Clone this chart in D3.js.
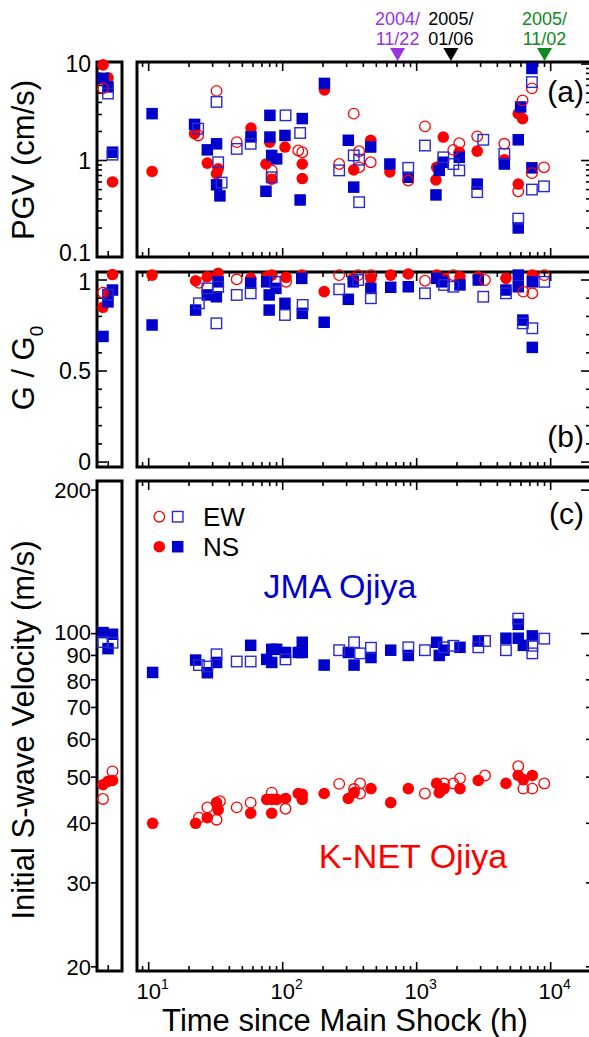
<!DOCTYPE html>
<html>
<head>
<meta charset="utf-8">
<title>ojiya</title>
<style>
  body{margin:0;background:#fff}
  svg{display:block;font-family:"Liberation Sans",Arial,sans-serif}
</style>
</head>
<body>
<div id="chart"></div>
<script src="https://d3js.org/d3.v7.min.js"></script>
<script>
// [hours since main shock, value]
var pgvKnetNS = [[10.6,0.77],[22,1.9],[27.4,0.94],[32.1,0.73],[33,0.82],[58,2.17],[75,0.92],[80,1.55],[82.8,0.64],[104,1.38],[140,0.92],[140,0.65],[205,5.4],[339,0.8],[454,1.62],[631,0.76],[1393,0.63],[1410,0.85],[1580,1.75],[2080,1.22],[2830,1.25],[4510,1.02],[5730,0.57],[5730,3.06],[6170,2.72]];
var pgvKnetEW = [[23.4,1.82],[32.1,5.27],[45.4,1.55],[82.8,0.79],[130.7,1.27],[140,1.22],[264,0.92],[339,3.06],[372,1.25],[372,0.85],[454,0.96],[865,0.62],[1153,2.26],[1877,1.29],[2080,1.51],[2830,1.78],[4510,1.49],[5730,0.48],[6170,4.2],[7245,5.6],[7245,0.74],[8913,0.85]];
var pgvJmaNS = [[10.6,3.06],[22,2.37],[27.4,1.29],[32.1,1.49],[32.1,0.56],[34,0.43],[58,1.76],[75,0.48],[80.3,2.94],[80.3,1.75],[82.8,1.13],[90.2,1.04],[104,1.82],[135,0.39],[140,2.72],[205,6.3],[309,1.62],[339,0.53],[454,1.38],[631,0.92],[865,0.67],[1393,0.44],[1475,0.79],[1580,0.96],[2080,1.08],[2830,0.57],[4510,0.92],[5730,1.64],[5730,0.2],[5970,3.59],[7245,9.0],[7245,0.84]];
var pgvJmaEW = [[23.4,2.14],[32.1,4.05],[33,0.96],[35,0.59],[45.4,1.32],[57.7,1.49],[82.8,0.67],[105,2.94],[135,1.93],[264,0.79],[339,1.13],[372,1.02],[372,0.37],[865,0.84],[1153,1.43],[1580,1.08],[1877,0.92],[2080,0.79],[2830,0.47],[3140,1.64],[4510,1.17],[5730,0.25],[7245,6.5],[7245,0.5],[8913,0.54]];

var ggKnetNS = [[10.6,1.027],[22.4,0.996],[27.4,1.018],[33,1.037],[57.7,1.009],[76,1.018],[82.8,1.027],[106,1.015],[138.7,1.027],[204,0.936],[336,1.009],[455,1.009],[640,1.027],[866,1.033],[1410,1.027],[1600,1.009],[2105,1.018],[2883,1.018],[4637,1.009],[7295,1.027]];
var ggKnetEW = [[23.7,0.985],[45.4,1.004],[106,0.99],[264,1.027],[366,1.027],[455,1.027],[1153,0.996],[1877,1.027],[3235,1.0],[6250,0.936],[7295,0.927],[8957,1.027]];
var ggJmaNS = [[10.6,0.753],[22.4,0.835],[27.4,0.918],[33,0.99],[32,0.908],[57.7,0.982],[76,0.99],[79.3,0.835],[79.3,0.918],[89,0.954],[104,0.872],[138.7,1.009],[140,0.817],[204,0.768],[309,0.894],[336,0.99],[455,0.954],[640,0.96],[866,0.963],[1410,1.009],[1540,0.99],[2105,0.973],[2883,1.0],[4637,0.945],[5730,1.027],[5730,0.963],[6200,0.78],[7295,0.99],[7295,0.63]];
var ggJmaEW = [[23.7,0.872],[27.4,0.954],[33,0.963],[32,0.762],[45.4,0.918],[57.7,0.927],[87.5,0.99],[104,0.808],[141,0.863],[264,0.949],[366,1.0],[455,0.9],[1153,0.927],[1600,0.973],[1877,0.963],[3140,0.908],[4637,0.927],[6200,0.762],[7295,0.735],[8957,0.99]];

var vsKnetNS = [[10.7,40],[22.4,40],[27.4,41.1],[32.1,44.2],[33,42.7],[57.7,42],[76,44.9],[82.8,44.9],[82.8,42],[90.2,44.9],[105,45.1],[130.7,46.2],[140,46],[140,44.9],[204,46.2],[309,45.1],[341,46.4],[456,47.3],[640,44.2],[866,47.3],[1410,48.5],[1475,46.4],[1600,47.3],[2105,47.3],[2883,49.2],[4637,48.5],[5728,50.4],[6250,49.4],[7295,50.4]];
var vsKnetEW = [[23.7,41.1],[27.4,43.2],[32.1,40.7],[34,44.5],[45.4,43.2],[57.7,44.2],[82.8,46.4],[105,42.9],[264,48.4],[341,47.2],[378,48.5],[378,46.2],[1152,46.2],[1600,48.5],[1877,48.5],[2105,49.7],[3235,50.4],[5728,52.7],[6250,47.3],[7295,47.3],[8957,48.5]];
var vsJmaNS = [[10.7,82.9],[22.4,88],[27.4,82.8],[32.1,87],[57.7,94.5],[76,88.3],[82.8,92.7],[82.8,87],[90.2,92.7],[105,91.3],[130.7,91.3],[140,95.9],[140,91.3],[204,85.9],[309,91.3],[341,85.9],[456,89.1],[640,92.3],[866,90],[1410,95.9],[1475,90],[1600,92.3],[2105,93.6],[2883,96.5],[4637,97.8],[5728,104.6],[5728,97.8],[6250,94.5],[7295,98.9]];
var vsJmaEW = [[23.7,85.9],[27.4,85.3],[32.1,90.5],[45.4,87.4],[57.7,87.4],[105,88.3],[264,92.3],[341,95.9],[378,90.9],[456,93.4],[866,93.6],[1152,92.3],[1600,93.6],[1877,94.3],[2883,93.6],[3235,96.5],[4637,92.3],[5728,107.5],[7295,94.3],[7295,90.9],[8957,97.6]];

// main shock strip (left narrow box), three positions
var stripPos = [0.24, 0.44, 0.62];
var stripPgvKnetNS = [9.8, 7.2, 0.6];
var stripPgvKnetEW = [5.6, null, null];
var stripPgvJmaNS = [7.1, 5.8, 1.22];
var stripPgvJmaEW = [null, 4.95, 1.15];
var stripGgKnetNS = [0.85, 0.93, 1.03];
var stripGgKnetEW = [0.93, null, null];
var stripGgJmaNS = [0.69, 0.88, 0.945];
var stripGgJmaEW = [null, 0.92, null];
var stripVsKnetNS = [48.2, 49.0, 49.2];
var stripVsKnetEW = [45.0, null, 51.4];
var stripVsJmaNS = [100.5, 93, 99.7];
var stripVsJmaEW = [96, null, 95.7];

// events marked above panel (a)
var eventHours = [720, 1800, 9000];
var eventLine1 = ["2004/", "2005/", "2005/"];
var eventLine2 = ["11/22", "01/06", "11/02"];
var eventColors = ["#9933dd", "#000000", "#118822"];

var xTickPowers = [1, 2, 3, 4];
var pgvLabels = [0.1, 1, 10];
var ggLabels = [0, 0.5, 1];
var vsLabels = [20, 30, 40, 50, 60, 70, 80, 90, 100, 200];

var RED = "#ff0000", BLUE = "#0000cc";
var W = 589, H = 1037;
var stripL = 97, stripR = 122, mainL = 137, mainR = 591;

var svg = d3.select("#chart").append("svg").attr("width", W).attr("height", H);

var x = d3.scaleLog().domain([8.18, 20000]).range([mainL, mainR]);
var xs = d3.scaleLinear().domain([0, 1]).range([stripL, stripR]);

function logTicks(lo, hi){
  var out = [];
  for (var d = lo; d < hi * 1.01; d *= 10){
    for (var m = 1; m <= 9; m++){
      var v = +(m * d).toPrecision(3);
      if (v >= lo && v <= hi * 1.001) out.push(v);
    }
  }
  return out;
}

var panels = [
  {top: 62, bottom: 257, y: d3.scaleLog().domain([0.1, 10.5]),
   ticks: logTicks(0.1, 10), major: [0.1, 1, 10], labels: pgvLabels, labelShift: {0.1: -4}, fs: 23,
   out: false, name: "(a)", nameY: 102,
   series: [pgvKnetNS, pgvJmaNS, pgvKnetEW, pgvJmaEW],
   strip: [stripPgvKnetNS, stripPgvJmaNS, stripPgvKnetEW, stripPgvJmaEW]},
  {top: 272, bottom: 467, y: d3.scaleLinear().domain([-0.027, 1.044]),
   ticks: d3.range(0, 11).map(function(i){return i / 10;}), major: [0, 0.5, 1], labels: ggLabels, labelShift: {1: 2}, fs: 23,
   out: false, name: "(b)", nameY: 447,
   series: [ggKnetNS, ggJmaNS, ggKnetEW, ggJmaEW],
   strip: [stripGgKnetNS, stripGgJmaNS, stripGgKnetEW, stripGgJmaEW]},
  {top: 481, bottom: 971, y: d3.scaleLog().domain([19.6, 209]),
   ticks: vsLabels, major: [100, 200], labels: vsLabels, labelShift: {100: -2, 90: 0, 80: 1}, fs: 22,
   out: true, name: "(c)", nameY: 524,
   series: [vsKnetNS, vsJmaNS, vsKnetEW, vsJmaEW],
   strip: [stripVsKnetNS, stripVsJmaNS, stripVsKnetEW, stripVsJmaEW]}
];
// series order: K-NET NS, JMA NS, K-NET EW, JMA EW
var seriesStyle = [
  {shape: "circle", filled: true, color: RED},
  {shape: "square", filled: true, color: BLUE},
  {shape: "circle", filled: false, color: RED},
  {shape: "square", filled: false, color: BLUE}
];

function marker(g, px, py, st){
  if (st.shape == "circle"){
    g.append("circle").attr("cx", px).attr("cy", py).attr("r", st.filled ? 5.8 : 5.3)
      .attr("fill", st.filled ? st.color : "none")
      .attr("stroke", st.color).attr("stroke-width", st.filled ? 0 : 1.3);
  } else {
    var s = st.filled ? 11.5 : 10.5;
    g.append("rect").attr("x", px - s / 2).attr("y", py - s / 2).attr("width", s).attr("height", s)
      .attr("fill", st.filled ? st.color : "none")
      .attr("stroke", st.filled ? "none" : "#2a2ad0").attr("stroke-width", 1.4);
  }
}

var xTicks = logTicks(1, 10000).filter(function(v){ return v >= x.domain()[0] && v <= x.domain()[1]; });

panels.forEach(function(p){
  p.y.range([p.bottom, p.top]);
  var g = svg.append("g");

  // x ticks on main box (top and bottom, pointing in)
  xTicks.forEach(function(v){
    var len = (Math.log10(v) % 1 === 0) ? 9 : 5;
    var px = x(v);
    g.append("line").attr("x1", px).attr("x2", px).attr("y1", p.bottom).attr("y2", p.bottom - len)
      .attr("stroke", "#000").attr("stroke-width", 1.6);
    g.append("line").attr("x1", px).attr("x2", px).attr("y1", p.top).attr("y2", p.top + len)
      .attr("stroke", "#000").attr("stroke-width", 1.6);
  });
  // strip tick
  g.append("line").attr("x1", xs(0.45)).attr("x2", xs(0.45)).attr("y1", p.bottom).attr("y2", p.bottom - 6)
    .attr("stroke", "#000").attr("stroke-width", 1.6);

  // y ticks: strip left side and main right side
  p.ticks.forEach(function(v){
    var isMajor = p.major.indexOf(v) >= 0;
    var py = p.y(v);
    var len = isMajor ? 10 : 5;
    if (p.out){
      g.append("line").attr("x1", stripL - 6).attr("x2", stripL).attr("y1", py).attr("y2", py)
        .attr("stroke", "#000").attr("stroke-width", 1.6);
    } else {
      g.append("line").attr("x1", stripL).attr("x2", stripL + len).attr("y1", py).attr("y2", py)
        .attr("stroke", "#000").attr("stroke-width", 1.6);
    }
    g.append("line").attr("x1", mainR - len).attr("x2", mainR).attr("y1", py).attr("y2", py)
      .attr("stroke", "#000").attr("stroke-width", 1.6);
  });
  p.labels.forEach(function(v){
    var sh = p.labelShift[v] || 0;
    g.append("text").attr("x", 91).attr("y", p.y(v) + sh).attr("dy", "0.36em")
      .attr("text-anchor", "end").attr("font-size", p.fs).text(String(v));
  });

  // frames
  g.append("rect").attr("x", stripL).attr("y", p.top).attr("width", stripR - stripL).attr("height", p.bottom - p.top)
    .attr("fill", "none").attr("stroke", "#000").attr("stroke-width", 3);
  g.append("rect").attr("x", mainL).attr("y", p.top).attr("width", mainR - mainL).attr("height", p.bottom - p.top)
    .attr("fill", "none").attr("stroke", "#000").attr("stroke-width", 3);

  // data
  var dg = svg.append("g");
  p.series.forEach(function(s, i){
    s.forEach(function(d){ marker(dg, x(d[0]), p.y(d[1]), seriesStyle[i]); });
  });
  p.strip.forEach(function(s, i){
    s.forEach(function(v, j){
      if (v !== null) marker(dg, xs(stripPos[j]), p.y(v), seriesStyle[i]);
    });
  });

  svg.append("text").attr("x", 584).attr("y", p.nameY).attr("text-anchor", "end")
    .attr("font-size", 30).text(p.name);
});

// x tick labels
xTickPowers.forEach(function(k){
  var t = svg.append("text").attr("x", x(Math.pow(10, k)) - 12.2).attr("y", 999).attr("font-size", 22);
  t.append("tspan").text("10");
  t.append("tspan").attr("font-size", 14).attr("dy", -10).text(String(k));
});

svg.append("text").attr("x", 345).attr("y", 1031).attr("text-anchor", "middle")
  .attr("font-size", 31).text("Time since Main Shock (h)");

// y titles
svg.append("text").attr("transform", "translate(34,160) rotate(-90)").attr("text-anchor", "middle")
  .attr("font-size", 31).text("PGV (cm/s)");
var gt = svg.append("text").attr("transform", "translate(34,368) rotate(-90)").attr("text-anchor", "middle")
  .attr("font-size", 31);
gt.append("tspan").text("G / G");
gt.append("tspan").attr("font-size", 19).attr("dy", 9).text("0");
svg.append("text").attr("transform", "translate(34,730) rotate(-90)").attr("text-anchor", "middle")
  .attr("font-size", 31).text("Initial S-wave Velocity (m/s)");

// event markers above (a)
eventHours.forEach(function(h, i){
  var px = x(h);
  svg.append("path").attr("d", "M" + (px - 7.5) + ",48L" + (px + 7.5) + ",48L" + px + ",61Z")
    .attr("fill", eventColors[i]);
  svg.append("text").attr("x", px).attr("y", 25).attr("text-anchor", "middle")
    .attr("font-size", 18).attr("fill", eventColors[i]).text(eventLine1[i]);
  svg.append("text").attr("x", px).attr("y", 45).attr("text-anchor", "middle")
    .attr("font-size", 18).attr("fill", eventColors[i]).text(eventLine2[i]);
});

// legend
var lg = svg.append("g");
marker(lg, 159.3, 516.7, seriesStyle[2]);
marker(lg, 177.7, 516.7, seriesStyle[3]);
marker(lg, 159.3, 546.7, seriesStyle[0]);
marker(lg, 177.7, 546.7, seriesStyle[1]);
lg.append("text").attr("x", 203).attr("y", 526).attr("font-size", 26).text("EW");
lg.append("text").attr("x", 203).attr("y", 556).attr("font-size", 26).text("NS");

svg.append("text").attr("x", 340).attr("y", 598).attr("text-anchor", "middle")
  .attr("font-size", 34).attr("fill", BLUE).text("JMA Ojiya");
svg.append("text").attr("x", 413).attr("y", 868).attr("text-anchor", "middle")
  .attr("font-size", 34).attr("fill", RED).text("K-NET Ojiya");
</script>
</body>
</html>
